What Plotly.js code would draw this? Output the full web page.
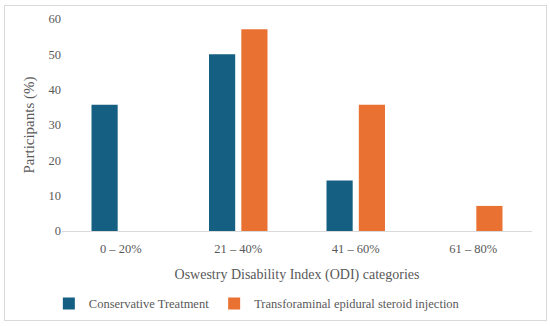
<!DOCTYPE html>
<html>
<head>
<meta charset="utf-8">
<script src="https://cdn.plot.ly/plotly-3.0.1.min.js"></script>
<style>
  html, body { margin: 0; padding: 0; background: #fff; }
  #wrap { position: relative; width: 550px; height: 326px; }
  #chart { width: 550px; height: 326px; }
  #frame { position: absolute; left: 4px; top: 5px; width: 541px; height: 314px; border: 1px solid #d9d9d9; pointer-events: none; }
</style>
</head>
<body>
<div id="wrap">
  <div id="chart"></div>
  <div id="frame"></div>
</div>
<script>
const categories = ["0 \u2013 20%", "21 \u2013 40%", "41 \u2013 60%", "61 \u2013 80%"];
const conservative = [35.7, 50.0, 14.3, 0];
const tfesi = [0, 57.1, 35.7, 7.1];
const seriesNames = ["Conservative Treatment", "Transforaminal epidural steroid injection"];
const yTicks = [0, 10, 20, 30, 40, 50, 60];

const FONT = "Liberation Serif, DejaVu Serif, serif";
const GREY = "#595959";

const data = [
  { type: "bar", x: categories, y: conservative, name: seriesNames[0], marker: { color: "#156082" } },
  { type: "bar", x: categories, y: tfesi, name: seriesNames[1], marker: { color: "#E97132" } }
];

const layout = {
  width: 550, height: 326,
  margin: { l: 62, r: 18, t: 19, b: 95, autoexpand: false },
  paper_bgcolor: "#fff", plot_bgcolor: "#fff",
  barmode: "group", bargap: 0.45, bargroupgap: 0.19,
  font: { family: FONT, color: GREY, size: 12 },
  showlegend: true,
  legend: { orientation: "h", xref: "container", yref: "container", x: 0.467, xanchor: "center", y: 0.068, yanchor: "middle",
            font: { family: FONT, size: 12.5, color: GREY } },
  xaxis: {
    type: "category", automargin: false,
    showline: true, linecolor: "#d9d9d9", linewidth: 1,
    ticks: "", showgrid: false, zeroline: false,
    ticklabelstandoff: 6,
    tickfont: { family: FONT, size: 12.5, color: GREY },
    title: { text: "Oswestry Disability Index (ODI) categories", font: { family: FONT, size: 14, color: GREY }, standoff: 14 }
  },
  yaxis: {
    range: [0, 60], tickvals: yTicks, showgrid: false, zeroline: false, showline: false,
    ticks: "", ticklen: 0, automargin: false,
    tickfont: { family: FONT, size: 12.5, color: GREY },
    title: { text: "Participants (%)", font: { family: FONT, size: 15, color: GREY }, standoff: 10 }
  }
};

Plotly.newPlot("chart", data, layout, { displayModeBar: false, staticPlot: true });
</script>
</body>
</html>
